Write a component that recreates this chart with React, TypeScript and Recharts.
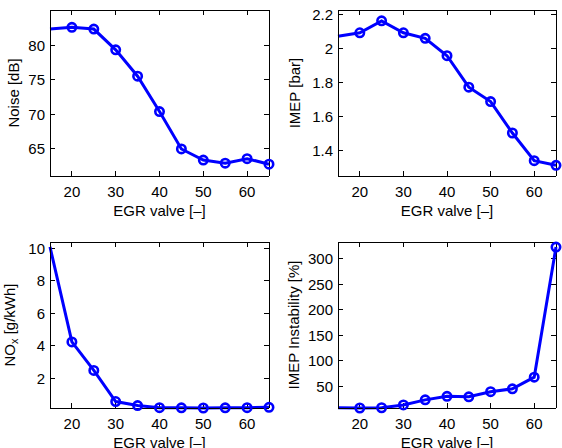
import { LineChart, Line, XAxis, YAxis } from 'recharts'

const egr = [15, 20, 25, 30, 35, 40, 45, 50, 55, 60, 65]
const noise = [82.3, 82.55, 82.3, 79.3, 75.5, 70.4, 65.0, 63.4, 62.95, 63.6, 62.8]
const imep = [2.07, 2.09, 2.16, 2.09, 2.057, 1.955, 1.77, 1.685, 1.5, 1.337, 1.31]
const nox = [10.1, 4.23, 2.47, 0.55, 0.3, 0.17, 0.16, 0.15, 0.16, 0.17, 0.19]
const instability = [7.5, 7, 7.5, 13, 23, 30, 29, 39, 44.7, 67.5, 323]

const xTicks = [20, 30, 40, 50, 60]
const noiseTicks = [65, 70, 75, 80]
const imepTicks = [1.4, 1.6, 1.8, 2, 2.2]
const noxTicks = [2, 4, 6, 8, 10]
const instabilityTicks = [50, 100, 150, 200, 250, 300]

const FONT = 'Liberation Sans, Arial, Helvetica, sans-serif'
const BLUE = '#0000ff'
const W = 281
const H = 224
const X_AXIS_H = 30
const X_DOMAIN: [number, number] = [15, 65]
const TICK_LEN = 5
const EDGE = { stroke: '#000', strokeWidth: 1, shapeRendering: 'crispEdges' as const }

const renderDot = (p: any) => {
  if (p.index === 0) return <g key={p.key} />
  return (
    <circle key={p.key} cx={p.cx} cy={p.cy} r={4.2}
      fill="none" stroke={BLUE} strokeWidth={2.6} />
  )
}

interface PanelProps {
  values: number[]
  yDomain: [number, number]
  yTicks: number[]
  yLabel: React.ReactNode
  yLabelDx: number
  left: number
  top: number
  margin: { top: number; right: number; bottom: number; left: number }
  yWidth: number
}

function Panel({ values, yDomain, yTicks, yLabel, yLabelDx, left, top, margin, yWidth }: PanelProps) {
  const data = egr.map((x, i) => ({ x, y: values[i] }))
  const plotL = margin.left + yWidth
  const plotR = W - margin.right
  const plotT = margin.top
  const plotB = H - margin.bottom - X_AXIS_H
  const [x0, x1] = X_DOMAIN
  const [y0, y1] = yDomain
  // tick length in data units, so the marks are placed by the chart's own scales
  const dx = (TICK_LEN / (plotR - plotL)) * (x1 - x0)
  const dy = (TICK_LEN / (plotB - plotT)) * (y1 - y0)

  // top and right edges of the box, plus inward tick marks on all four sides
  const frame = [
    [{ x: x0, y: y1 }, { x: x1, y: y1 }, { x: x1, y: y0 }],
    ...xTicks.map(t => [{ x: t, y: y0 }, { x: t, y: y0 + dy }]),
    ...xTicks.map(t => [{ x: t, y: y1 }, { x: t, y: y1 - dy }]),
    ...yTicks.map(t => [{ x: x0, y: t }, { x: x0 + dx, y: t }]),
    ...yTicks.map(t => [{ x: x1, y: t }, { x: x1 - dx, y: t }]),
  ]

  const xTick = (p: any) => (
    <text x={p.x} y={plotB + 15.5} textAnchor="middle" dominantBaseline="central"
      fontSize={15} fontFamily={FONT} fill="#000">{p.payload.value}</text>
  )
  const yTick = (p: any) => (
    <text x={plotL - 5} y={p.y} textAnchor="end" dominantBaseline="central"
      fontSize={15} fontFamily={FONT} fill="#000">{p.payload.value}</text>
  )

  return (
    <div style={{ position: 'absolute', left, top }}>
      <LineChart width={W} height={H} data={data} margin={margin}>
        <XAxis dataKey="x" type="number" domain={X_DOMAIN} ticks={xTicks}
          tick={xTick} tickLine={false} height={X_AXIS_H} axisLine={EDGE}
          label={() => (
            <text x={(plotL + plotR) / 2} y={plotB + 34} textAnchor="middle"
              dominantBaseline="central" fontSize={15} fontFamily={FONT} fill="#000">
              EGR valve [–]
            </text>
          )} />
        <YAxis type="number" domain={yDomain} ticks={yTicks} width={yWidth}
          tick={yTick} tickLine={false} axisLine={EDGE}
          label={() => {
            const cx = margin.left + yLabelDx
            const cy = (plotT + plotB) / 2
            return (
              <text x={cx} y={cy} transform={`rotate(-90 ${cx} ${cy})`} textAnchor="middle"
                dominantBaseline="central" fontSize={15} fontFamily={FONT} fill="#000">
                {yLabel}
              </text>
            )
          }} />
        {frame.map((seg, i) => (
          <Line key={`f${i}`} data={seg} type="linear" dataKey="y" {...EDGE}
            dot={false} activeDot={false} isAnimationActive={false} legendType="none" />
        ))}
        <Line type="linear" dataKey="y" stroke={BLUE} strokeWidth={3}
          dot={renderDot} activeDot={false} isAnimationActive={false} />
      </LineChart>
    </div>
  )
}

export default function App() {
  return (
    <div style={{ position: 'absolute', left: 0, top: 0, width: 562, height: 448, background: '#fff' }}>
      <Panel values={noise} yDomain={[61.1, 85.05]} yTicks={noiseTicks} yLabel="Noise [dB]"
        yLabelDx={13} left={0} top={0} yWidth={50}
        margin={{ top: 10, right: 12, bottom: 18, left: 0 }} />
      <Panel values={imep} yDomain={[1.247, 2.224]} yTicks={imepTicks} yLabel="IMEP [bar]"
        yLabelDx={13} left={281} top={0} yWidth={57}
        margin={{ top: 10, right: 6, bottom: 18, left: 0 }} />
      <Panel values={nox} yDomain={[0.15, 10.4]} yTicks={noxTicks}
        yLabel={<>NO<tspan fontSize={11} dy={5}>x</tspan><tspan dy={-5}> [g/kWh]</tspan></>}
        yLabelDx={9} left={0} top={224} yWidth={50}
        margin={{ top: 18, right: 12, bottom: 10, left: 0 }} />
      <Panel values={instability} yDomain={[7, 333]} yTicks={instabilityTicks}
        yLabel="IMEP Instability [%]" yLabelDx={12} left={281} top={224} yWidth={57}
        margin={{ top: 18, right: 6, bottom: 10, left: 0 }} />
    </div>
  )
}
